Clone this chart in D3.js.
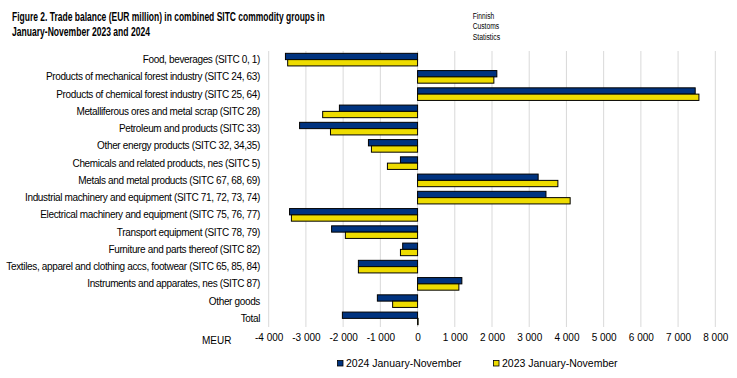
<!DOCTYPE html>
<html>
<head>
<meta charset="utf-8">
<script src="https://cdn.jsdelivr.net/npm/d3@7"></script>
<style>
  body { margin: 0; background: #fff; }
  svg { display: block; font-family: "Liberation Sans", Arial, sans-serif; }
</style>
</head>
<body>
<svg id="chart"></svg>
<script>
"use strict";

var Width = 737,
    Height = 378;

// categories, top to bottom
var categories = [
    "Food, beverages (SITC 0, 1)",
    "Products of mechanical forest industry (SITC 24, 63)",
    "Products of chemical forest industry (SITC 25, 64)",
    "Metalliferous ores and metal scrap (SITC 28)",
    "Petroleum and products (SITC 33)",
    "Other energy products (SITC 32, 34,35)",
    "Chemicals and related products, nes (SITC 5)",
    "Metals and metal products (SITC 67, 68, 69)",
    "Industrial machinery and equipment (SITC 71, 72, 73, 74)",
    "Electrical machinery and equipment (SITC 75, 76, 77)",
    "Transport equipment (SITC 78, 79)",
    "Furniture and parts thereof (SITC 82)",
    "Textiles, apparel and clothing accs, footwear (SITC 65, 85, 84)",
    "Instruments and apparates, nes (SITC 87)",
    "Other goods",
    "Total"
];

var values2024 = [-3550, 2130, 7460, -2100, -3170, -1320, -460, 3240, 3450, -3440, -2310, -400, -1590, 1190, -1080, -2020];
var values2023 = [-3490, 2050, 7560, -2550, -2340, -1240, -810, 3770, 4100, -3390, -1940, -460, -1590, 1110, -670, 15];

var seriesNames = ["2024 January-November", "2023 January-November"];
var seriesColors = ["#00337f", "#eedc00"];
var tickValues = [-4000, -3000, -2000, -1000, 0, 1000, 2000, 3000, 4000, 5000, 6000, 7000, 8000];

var titleLines = [
    "Figure 2. Trade balance (EUR million) in combined SITC commodity groups in",
    "January-November 2023 and 2024"
];
var sourceLines = ["Finnish", "Customs", "Statistics"];

var svg = d3.select("#chart")
    .attr("width", Width)
    .attr("height", Height);

var x = d3.scaleLinear().domain([-4000, 8000]).range([268.7, 715.3]);
var y = d3.scaleBand().domain(categories).range([51, 327]);

var locale = d3.formatLocale({ decimal: ",", thousands: "\u00a0", grouping: [3], currency: ["", ""], minus: "-" });
var fmt = locale.format(",d");

// squeeze a text horizontally to a given width (the original uses a narrow font)
function fitWidth(node, px, py, target) {
    var w = node.getComputedTextLength();
    d3.select(node).attr("transform", "translate(" + px + "," + py + ") scale(" + (target / w) + ",1)");
}

// title
var titleLen = [313, 138];
svg.selectAll(".title")
    .data(titleLines)
    .enter()
    .append("text")
    .attr("class", "title")
    .attr("font-size", 13)
    .attr("font-weight", "bold")
    .text(function (d) { return d; })
    .each(function (d, i) { fitWidth(this, 12, 20.8 + i * 15, titleLen[i]); });

// source
var sourceLen = [21.5, 26.5, 27.5];
svg.selectAll(".source")
    .data(sourceLines)
    .enter()
    .append("text")
    .attr("class", "source")
    .attr("font-size", 8.8)
    .text(function (d) { return d; })
    .each(function (d, i) { fitWidth(this, 472.7, 18.8 + i * 10.4, sourceLen[i]); });

// gridlines
svg.append("g")
    .selectAll("line")
    .data(tickValues)
    .enter()
    .append("line")
    .attr("x1", function (d) { return x(d); })
    .attr("x2", function (d) { return x(d); })
    .attr("y1", 51)
    .attr("y2", 327)
    .attr("stroke", "#d9d9d9")
    .attr("stroke-width", 1);

// x axis labels
var xAxis = svg.append("g")
    .attr("transform", "translate(0,331)")
    .call(d3.axisBottom(x).tickValues(tickValues).tickSize(0).tickFormat(fmt));
xAxis.select(".domain").remove();
xAxis.selectAll("text")
    .attr("font-size", 10)
    .attr("font-family", "\"Liberation Sans\", Arial, sans-serif")
    .attr("fill", "#000");

svg.append("text")
    .attr("x", 202)
    .attr("y", 343.5)
    .attr("font-size", 10)
    .text("MEUR");

// category labels
svg.append("g")
    .selectAll("text")
    .data(categories)
    .enter()
    .append("text")
    .attr("x", 260)
    .attr("y", function (d) { return y(d) + y.bandwidth() / 2; })
    .attr("dy", "0.35em")
    .attr("text-anchor", "end")
    .attr("font-size", 10)
    .attr("letter-spacing", -0.35)
    .text(function (d) { return d; });

// bars
var barH = 6.3;
var groupTop = (y.bandwidth() - 2 * barH) / 2;
[values2024, values2023].forEach(function (vals, s) {
    svg.append("g")
        .selectAll("rect")
        .data(vals)
        .enter()
        .append("rect")
        .attr("x", function (d) { return x(Math.min(0, d)); })
        .attr("width", function (d) { return Math.abs(x(d) - x(0)); })
        .attr("y", function (d, i) { return y(categories[i]) + groupTop + s * barH; })
        .attr("height", barH)
        .attr("fill", seriesColors[s])
        .attr("stroke", "#000")
        .attr("stroke-width", 1);
});

// legend
var legendX = [337, 493];
var legend = svg.append("g")
    .selectAll("g")
    .data(seriesNames)
    .enter()
    .append("g")
    .attr("transform", function (d, i) { return "translate(" + legendX[i] + ",363)"; });

legend.append("rect")
    .attr("x", 0.5)
    .attr("y", -2.5)
    .attr("width", 5.5)
    .attr("height", 5.5)
    .attr("fill", function (d, i) { return seriesColors[i]; })
    .attr("stroke", "#000")
    .attr("stroke-width", 0.8);

legend.append("text")
    .attr("x", 9)
    .attr("y", 0)
    .attr("dy", "0.35em")
    .attr("font-size", 10.5)
    .text(function (d) { return d; });
</script>
</body>
</html>
